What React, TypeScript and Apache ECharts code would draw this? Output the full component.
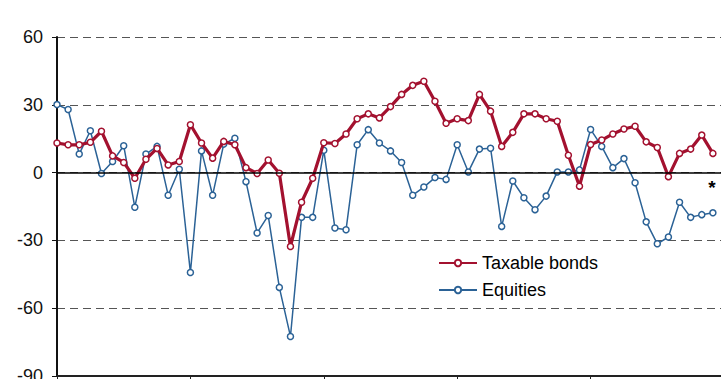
import React, { useEffect, useRef } from "react";
import * as echarts from "echarts";

const months: number[] = Array.from({ length: 60 }, (_, i) => i);

const taxableBonds: number[] = [
  13.1, 12.3, 12.3, 13.4, 18.3, 7.4, 4.5, -2.5, 5.9, 10.7, 3.4, 4.9,
  21.2, 13.1, 6.4, 13.8, 12.3, 2.2, -0.4, 5.6, -0.3, -32.7, -13.1, -2.5,
  13.2, 12.9, 17.1, 23.8, 26.0, 24.2, 29.2, 34.6, 38.6, 40.4, 31.6, 21.8,
  23.8, 23.0, 34.6, 27.2, 11.6, 17.8, 26.0, 26.0, 23.8, 22.7, 7.7, -6.0,
  12.4, 14.4, 17.1, 19.3, 20.5, 13.6, 11.1, -1.8, 8.5, 10.4, 16.6, 8.5,
];

const equities: number[] = [
  30.1, 27.9, 8.2, 18.5, -0.4, 4.9, 11.9, -15.3, 8.2, 11.6, -10.0, 1.5,
  -44.2, 9.6, -10.0, 12.6, 15.2, -4.0, -26.7, -19.0, -50.8, -72.5, -19.8, -19.8,
  9.9, -24.5, -25.3, 12.3, 19.0, 13.1, 9.6, 4.5, -10.0, -6.4, -2.2, -3.0,
  12.3, 0.3, 10.4, 10.8, -23.8, -3.7, -11.1, -16.4, -10.4, 0.3, 0.3, 1.2,
  19.1, 11.6, 2.2, 6.2, -4.5, -21.8, -31.5, -28.5, -13.1, -19.8, -18.6, -17.8,
];

const yTicks = { min: -90, max: 60, interval: 30 };
const seriesNames = ["Taxable bonds", "Equities"];

export default function App() {
  const ref = useRef<HTMLDivElement>(null);
  useEffect(() => {
    if (!ref.current) return;
    const chart = echarts.init(ref.current, undefined, { renderer: "svg" });
    const font = "Liberation Sans, Arial, sans-serif";
    chart.setOption({
      animation: false,
      backgroundColor: "#ffffff",
      grid: {
        left: 57,
        top: 37,
        right: -3,
        bottom: 3,
        containLabel: false,
        outerBoundsMode: "none",
      },
      legend: {
        show: true,
        orient: "vertical",
        left: 438,
        top: 254,
        padding: 0,
        itemWidth: 38,
        itemHeight: 8,
        itemGap: 9,
        textStyle: { fontFamily: font, fontSize: 18, color: "#000" },
        data: seriesNames,
      },
      xAxis: {
        type: "value",
        min: 0,
        max: 60,
        interval: 12,
        axisLine: { show: true, onZero: false, lineStyle: { color: "#222", width: 2 } },
        axisTick: { show: true, inside: false, length: 6, lineStyle: { color: "#222", width: 1 } },
        axisLabel: { show: false },
        splitLine: { show: false },
      },
      yAxis: {
        type: "value",
        min: yTicks.min,
        max: yTicks.max,
        interval: yTicks.interval,
        axisLine: { show: true, lineStyle: { color: "#111", width: 2 } },
        axisTick: { show: true, length: 5, lineStyle: { color: "#111", width: 1 } },
        axisLabel: { fontFamily: font, fontSize: 18, color: "#111", margin: 14 },
        splitLine: { show: true, lineStyle: { color: "#555", width: 1, type: [8, 5] } },
      },
      series: [
        {
          name: seriesNames[1],
          type: "line",
          data: months.map((m, i) => [m, equities[i]]),
          symbol: "circle",
          symbolSize: 6,
          showAllSymbol: true,
          itemStyle: { color: "#ffffff", borderColor: "#2b6296", borderWidth: 1.5 },
          lineStyle: { color: "#2b6296", width: 1.5 },
          z: 3,
          markLine: {
            silent: true,
            symbol: "none",
            label: { show: false },
            lineStyle: { color: "#000", width: 1.5, type: "solid" },
            data: [{ yAxis: 0 }],
          },
        },
        {
          name: seriesNames[0],
          type: "line",
          data: months.map((m, i) => [m, taxableBonds[i]]),
          symbol: "circle",
          symbolSize: 6,
          showAllSymbol: true,
          itemStyle: { color: "#ffffff", borderColor: "#a3112f", borderWidth: 1.5 },
          lineStyle: { color: "#a3112f", width: 3.2 },
          z: 4,
        },
      ],
      graphic: [
        {
          type: "text",
          x: 712,
          y: 178,
          style: {
            text: "*",
            fontFamily: font,
            fontSize: 19,
            fontWeight: "bold",
            fill: "#000",
            textAlign: "center",
            textVerticalAlign: "top",
          },
        },
      ],
    });
    return () => chart.dispose();
  }, []);
  return (
    <div
      ref={ref}
      style={{ position: "fixed", left: 0, top: 0, width: 721, height: 379 }}
    />
  );
}
